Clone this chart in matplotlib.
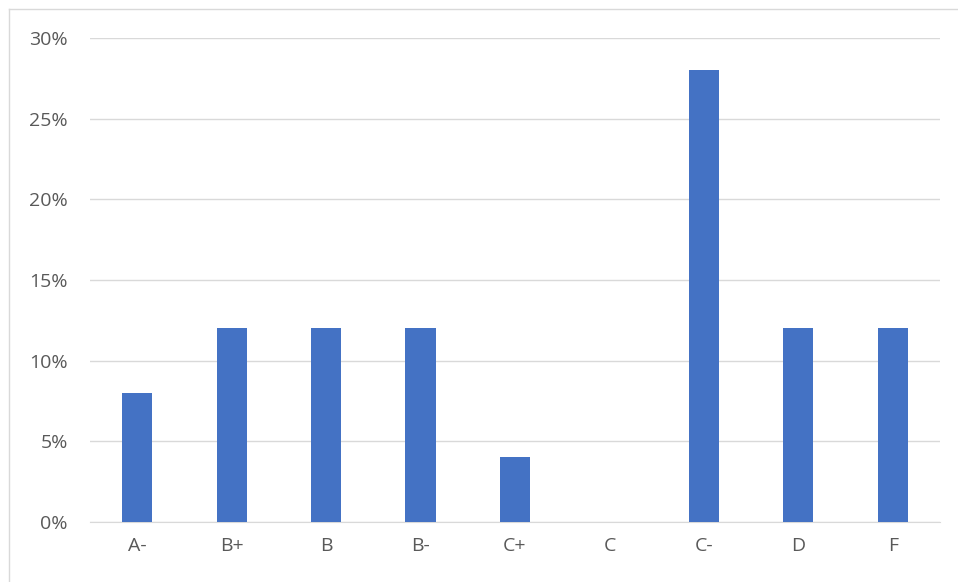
import matplotlib
matplotlib.use("Agg")
import matplotlib.pyplot as plt
from matplotlib.ticker import FuncFormatter, MultipleLocator
from matplotlib.lines import Line2D

categories = ["A-", "B+", "B", "B-", "C+", "C", "C-", "D", "F"]
values = [0.08, 0.12, 0.12, 0.12, 0.04, 0.0, 0.28, 0.12, 0.12]

plt.rcParams['font.family'] = ['Open Sans', 'DejaVu Sans']

W, H = 958, 582
fig = plt.figure(figsize=(W/100, H/100), dpi=100)
ax = fig.add_axes([90/W, 1-522/H, 850/W, (522-38)/H])

x = list(range(len(categories)))
ax.bar(x, values, width=0.32, color="#4472C4", zorder=3)
ax.set_xlim(-0.5, len(categories)-0.5)
ax.set_ylim(0, 0.30)
ax.yaxis.set_major_locator(MultipleLocator(0.05))
ax.yaxis.set_major_formatter(FuncFormatter(lambda v, p: f"{v*100:.0f}%"))
ax.set_xticks(x)
ax.set_xticklabels(categories)
ax.grid(axis='y', color="#D9D9D9", linewidth=1, zorder=0)
for s in ["top", "right", "left"]:
    ax.spines[s].set_visible(False)
ax.spines["bottom"].set_color("#D9D9D9")
ax.tick_params(axis='both', length=0, colors="#595959", labelsize=14)
ax.tick_params(axis='y', pad=16)
ax.tick_params(axis='x', pad=11)

# partial chart border (left and top edges visible)
fig.add_artist(Line2D([8.5/W, 8.5/W], [0, 1-8.5/H], transform=fig.transFigure,
                      color="#D9D9D9", linewidth=1))
fig.add_artist(Line2D([8.5/W, 1], [1-8.5/H, 1-8.5/H], transform=fig.transFigure,
                      color="#D9D9D9", linewidth=1))
fig.savefig("out.png", dpi=100)
